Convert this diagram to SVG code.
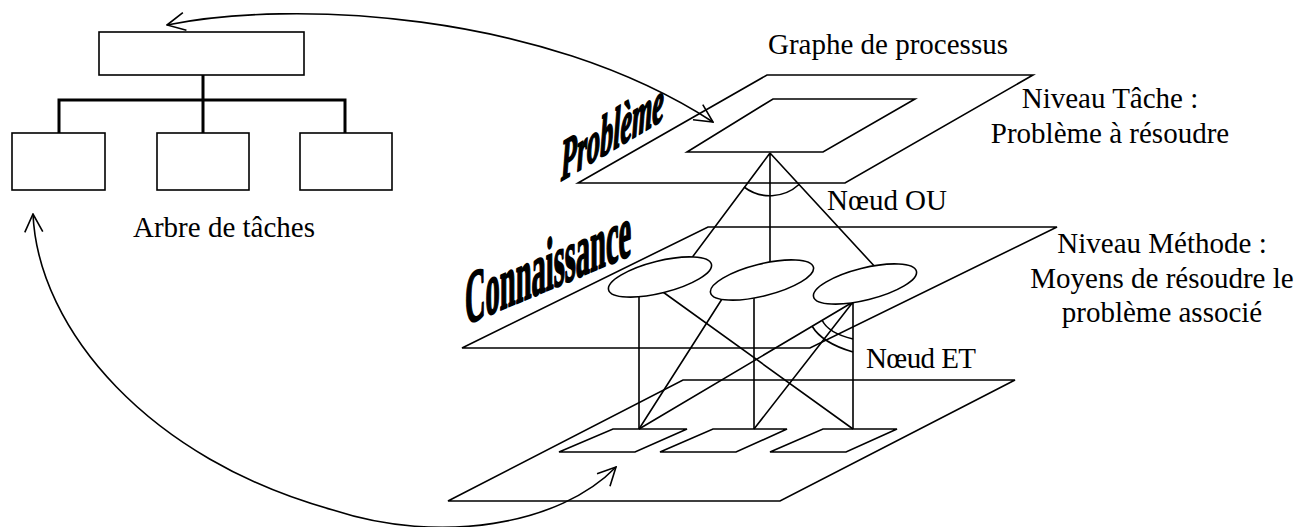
<svg xmlns="http://www.w3.org/2000/svg" width="1311" height="527" viewBox="0 0 1311 527">
<defs>
<style>
.box{fill:#fff;stroke:#000;stroke-width:1.6}
.thick{fill:none;stroke:#000;stroke-width:3}
.pl{fill:none;stroke:#000;stroke-width:1.6;stroke-linejoin:miter}
.ln{fill:none;stroke:#000;stroke-width:1.6}
.el{fill:#fff;stroke:#000;stroke-width:1.6}
.cv{fill:none;stroke:#000;stroke-width:1.6}
.t{font-family:"Liberation Serif","Times New Roman",serif;font-size:29px;fill:#000}
.wa{font-family:"Liberation Serif","Times New Roman",serif;font-weight:bold;fill:#000;stroke:#000;stroke-width:2.2;stroke-linejoin:round}
</style>
<marker id="arr" markerUnits="userSpaceOnUse" viewBox="0 0 20 20" markerWidth="20" markerHeight="20" refX="19" refY="10" orient="auto-start-reverse">
<path d="M1,1 L19,10 L1,19" fill="none" stroke="#000" stroke-width="1.6"/>
</marker>
</defs>
<rect width="1311" height="527" fill="#fff"/>

<g id="task-tree">
<path class="thick" d="M203,75 V133 M59,133 V100 H345 V133"/>
<rect id="task-root" class="box" x="99" y="32" width="205" height="43"/>
<rect id="task-1" class="box" x="12" y="133" width="93" height="57"/>
<rect id="task-2" class="box" x="157" y="133" width="92" height="57"/>
<rect id="task-3" class="box" x="300" y="133" width="92" height="57"/>
<text class="t" x="133" y="237">Arbre de tâches</text>
</g>

<g id="plane-tache">
<polygon class="pl" points="767,75 1033,75 845,183 578,183"/>
<polygon class="pl" points="773,99 915,99 823,152 687,152"/>
<text class="wa" font-size="58" font-style="italic" transform="matrix(0.45,-0.27,0,1,561,181)">Problème</text>
</g>

<g id="plane-methode">
<polygon class="pl" points="708,227 1057,227 810,348 462,348"/>
<text class="wa" font-size="75" transform="matrix(0.38,-0.16,0,1,465,325)">Connaissance</text>
</g>

<g id="plane-bas">
<polygon class="pl" points="683,380 1015,380 780,501 448,501"/>
<polygon id="sub-1" class="pl" points="613,429 687,429 635,452 559,452"/>
<polygon id="sub-2" class="pl" points="713,429 787,429 736,452 660,452"/>
<polygon id="sub-3" class="pl" points="823,429 897,429 846,452 770,452"/>
</g>

<g id="connectors">
<path class="ln" d="M770,153 L685,267 M770,153 V266 M770,153 L877,269"/>
<path class="ln" d="M639,290 V429 M656,287 L853,429"/>
<path class="ln" d="M754,293 V429 M722,299 L639,429"/>
<path class="ln" d="M853,302 V429 M853,302 L754,429 M853,302 L639,429"/>
<path class="ln" d="M744,187 A43,43 0 0,0 799,184.5"/>
<path class="ln" d="M822,320 Q828,333 853,339"/>
<path class="ln" d="M812,326 Q822,343 853,352"/>
<path class="cv" d="M167,25 C290,0 540,10 713,122" marker-start="url(#arr)" marker-end="url(#arr)"/>
<path class="cv" d="M33,214 C38,330 150,460 333,510 C440,545 560,525 616,467" marker-start="url(#arr)" marker-end="url(#arr)"/>
</g>

<g id="method-1"><ellipse class="el" cx="660" cy="277" rx="53" ry="16" transform="rotate(-14 660 277)"/></g>
<g id="method-2"><ellipse class="el" cx="762" cy="280" rx="53" ry="16" transform="rotate(-14 762 280)"/></g>
<g id="method-3"><ellipse class="el" cx="865" cy="284" rx="53" ry="16" transform="rotate(-14 865 284)"/></g>

<g id="labels">
<text class="t" x="768" y="54">Graphe de processus</text>
<text class="t" x="1110" y="108" text-anchor="middle">Niveau Tâche :</text>
<text class="t" x="1110" y="143" text-anchor="middle">Problème à résoudre</text>
<text class="t" x="827" y="210" textLength="120">Nœud OU</text>
<text class="t" x="1162" y="253" text-anchor="middle">Niveau Méthode :</text>
<text class="t" x="1162" y="288" text-anchor="middle">Moyens de résoudre le</text>
<text class="t" x="1162" y="322" text-anchor="middle">problème associé</text>
<text class="t" x="866" y="368" textLength="110">Nœud ET</text>
</g>
</svg>
